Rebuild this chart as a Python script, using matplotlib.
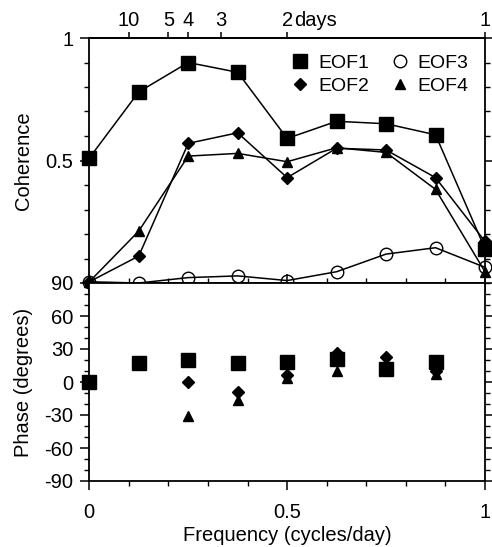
import matplotlib
matplotlib.use("Agg")
import matplotlib.pyplot as plt
from matplotlib.lines import Line2D
from matplotlib.ticker import MultipleLocator, FixedLocator
import numpy as np

plt.rcParams["font.family"] = ["Liberation Sans", "DejaVu Sans"]
plt.rcParams["axes.unicode_minus"] = False

# ── data ──────────────────────────────────────────────────────────────────
freq = [0, 0.125, 0.25, 0.375, 0.5, 0.625, 0.75, 0.875, 1.0]

coh_eof1 = [0.51, 0.78, 0.90, 0.86, 0.59, 0.66, 0.65, 0.605, 0.14]
coh_eof2 = [0.005, 0.11, 0.57, 0.613, 0.43, 0.55, 0.543, 0.43, 0.17]
coh_eof3 = [0.005, 0.0, 0.022, 0.029, 0.01, 0.046, 0.118, 0.144, 0.064]
coh_eof4 = [0.005, 0.212, 0.518, 0.529, 0.495, 0.552, 0.533, 0.382, 0.046]

ph_eof1 = [0, 17.5, 19.6, 17.5, 18.4, 21.2, 11.4, 18.4, np.nan]
ph_eof2 = [np.nan, np.nan, 0, -9, 6, 26, 23, 10, np.nan]
ph_eof4 = [np.nan, np.nan, -31, -16, 4, 10, np.nan, 7.5, np.nan]

periods = [10, 5, 4, 3, 2, 1]
period_labels = ["10", "5", "4", "3", "2", "1"]

series = [
    ("EOF1", "s", 9.5, "k", coh_eof1, ph_eof1),
    ("EOF2", "D", 6.5, "k", coh_eof2, ph_eof2),
    ("EOF3", "o", 9, "none", coh_eof3, None),
    ("EOF4", "^", 7, "k", coh_eof4, ph_eof4),
]

FS = 14.5

fig = plt.figure(figsize=(4.92, 5.47), dpi=100)
L, W = 89.3 / 492, 395.7 / 492
ax1 = fig.add_axes([L, 1 - 283 / 547, W, 245 / 547])
ax2 = fig.add_axes([L, 1 - 481 / 547, W, 198 / 547], sharex=ax1)

for name, mk, ms, fc, coh, ph in series:
    ax1.plot(freq, coh, color="k", lw=1.1, marker=mk, ms=ms,
             mfc=fc, mec="k", mew=1.0, clip_on=False, zorder=3)
    if ph is not None:
        ax2.plot(freq, ph, ls="none", marker=mk, ms=ms, mfc=fc, mec="k",
                 mew=1.0, clip_on=False, zorder=3)

# ── coherence panel ──
ax1.set_xlim(0, 1)
ax1.set_ylim(0, 1)
ax1.yaxis.set_major_locator(FixedLocator([0.5, 1.0]))
ax1.yaxis.set_major_formatter(plt.FixedFormatter(["0.5", "1"]))
ax1.yaxis.set_minor_locator(MultipleLocator(0.1))
ax1.set_ylabel("Coherence", fontsize=FS)
ax1.yaxis.set_label_coords(-0.142, 0.5)
ax1.tick_params(axis="x", which="both", labelbottom=False)

# ── phase panel ──
ax2.set_ylim(-90, 90)
ax2.yaxis.set_major_locator(MultipleLocator(30))
ax2.yaxis.set_minor_locator(MultipleLocator(10))
ax2.xaxis.set_major_locator(FixedLocator([0, 0.5, 1]))
ax2.xaxis.set_major_formatter(plt.FixedFormatter(["0", "0.5", "1"]))
ax2.xaxis.set_minor_locator(MultipleLocator(0.1))
ax2.set_ylabel("Phase (degrees)", fontsize=FS)
ax2.yaxis.set_label_coords(-0.142, 0.5)
ax2.set_xlabel("Frequency (cycles/day)", fontsize=FS, labelpad=3)

for ax in (ax1, ax2):
    for s in ax.spines.values():
        s.set_linewidth(1.3)
    ax.tick_params(which="major", direction="out", length=6.5, width=1.1,
                   labelsize=FS, right=True, pad=5)
    ax.tick_params(which="minor", direction="out", length=3.5, width=1.0,
                   right=True)
    ax.tick_params(axis="x", which="major", pad=9)
ax1.tick_params(axis="both", which="both", top=False)
ax2.tick_params(axis="x", which="both", top=True)

# ── period axis on top ──
top = ax1.secondary_xaxis("top")
top.set_xticks([1 / p for p in periods])
top.set_xticklabels(period_labels)
top.xaxis.set_minor_locator(FixedLocator([]))
top.tick_params(direction="out", length=4, width=1.1, labelsize=FS, pad=2)
top.spines["top"].set_linewidth(1.3)
ax1.annotate("days", xy=(0.5, 1.0), xycoords="axes fraction",
             xytext=(5, 5.5), textcoords="offset points", fontsize=FS,
             ha="left", va="bottom")

# ── legend ──
handles = [Line2D([], [], ls="none", marker=mk, ms=ms, mfc=fc, mec="k",
                  mew=1.0, color="k")
           for name, mk, ms, fc, coh, ph in series]
ax1.legend(handles, [s[0] for s in series], ncol=2, loc="upper right",
           frameon=False, fontsize=14, handlelength=1.0, handletextpad=0.4,
           columnspacing=1.1, labelspacing=0.25, borderaxespad=0.45)

fig.savefig("out.png", dpi=100)
